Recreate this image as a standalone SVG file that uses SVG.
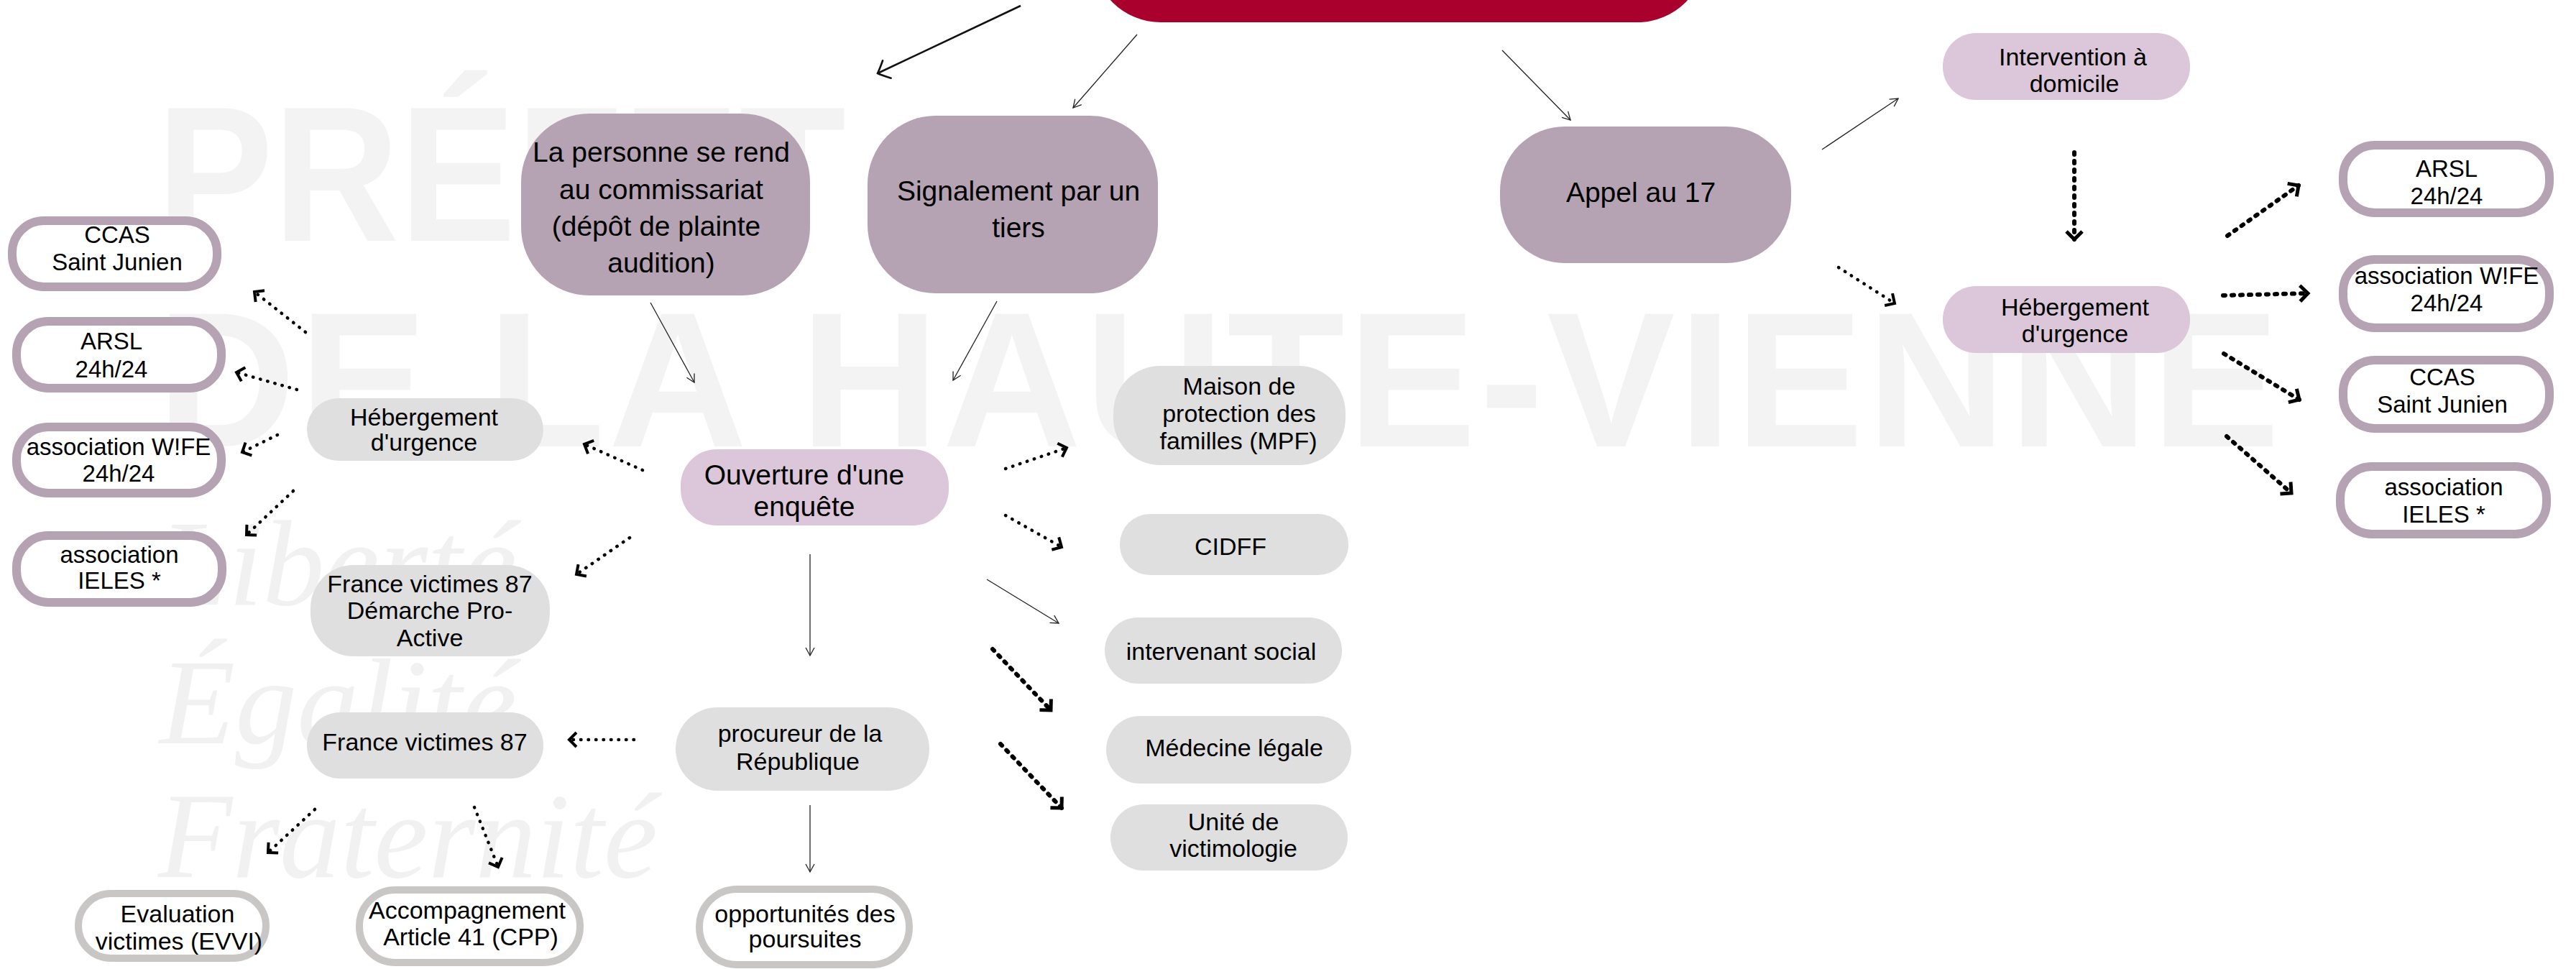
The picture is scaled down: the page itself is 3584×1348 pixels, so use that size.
<svg xmlns="http://www.w3.org/2000/svg" width="3584" height="1348" viewBox="0 0 3584 1348">
<style>
.wm{font-family:"Liberation Sans",Arial,sans-serif;font-weight:bold;fill:#f3f3f3}
.wi{font-family:"Liberation Serif","Times New Roman",serif;font-style:italic;fill:#f1f1f1}
.t{font-family:"Liberation Sans",Arial,sans-serif;fill:#000;text-anchor:middle}
.L{font-size:39px}
.S{font-size:34px}
.O{font-size:33px}
.mauve{fill:#b5a2b3}
.pink{fill:#dcc6d9}
.grey{fill:#dfdfdf}
.ring{fill:#fff;stroke:#b5a2b3;stroke-width:12}
.ring2{fill:#fff;stroke:#c9c6c6;stroke-width:10}
.sol{fill:none;stroke:#222;stroke-width:1.3;marker-end:url(#thin)}
.sol2{fill:none;stroke:#111;stroke-width:2.6;marker-end:url(#big)}
.dot{fill:none;stroke:#000;stroke-width:4.5;stroke-dasharray:0.5 10;stroke-linecap:round;marker-end:url(#chev)}
.dot2{fill:none;stroke:#000;stroke-width:6;stroke-dasharray:3 9;stroke-linecap:round;marker-end:url(#chev2)}
</style>
<defs>
<marker id="thin" markerUnits="userSpaceOnUse" markerWidth="30" markerHeight="30" viewBox="-15 -15 30 30" refX="0" refY="0" orient="auto" overflow="visible">
<path d="M-11,-6 L0,0 L-11,6" fill="none" stroke="#222" stroke-width="1.3"/>
</marker>
<marker id="big" markerUnits="userSpaceOnUse" markerWidth="40" markerHeight="40" viewBox="-20 -20 40 40" refX="0" refY="0" orient="auto" overflow="visible">
<path d="M-14,-14 Q-4,-5 0,0 Q-5,4 -14,13" fill="none" stroke="#111" stroke-width="2.6" stroke-linecap="round"/>
</marker>
<marker id="chev" markerUnits="userSpaceOnUse" markerWidth="30" markerHeight="30" viewBox="-15 -15 30 30" refX="0" refY="0" orient="auto" overflow="visible">
<path d="M-10,-10 L0,0 L-10,10" fill="none" stroke="#000" stroke-width="4"/>
</marker>
<marker id="chev2" markerUnits="userSpaceOnUse" markerWidth="30" markerHeight="30" viewBox="-15 -15 30 30" refX="0" refY="0" orient="auto" overflow="visible">
<path d="M-11,-11 L0,0 L-11,11" fill="none" stroke="#000" stroke-width="5"/>
</marker>
</defs>
<rect width="3584" height="1348" fill="#fff"/>
<g id="watermark">
<text class="wm" x="218" y="335" font-size="268" textLength="959" lengthAdjust="spacingAndGlyphs">PRÉFET</text>
<text class="wm" x="218" y="621" font-size="268" textLength="2954" lengthAdjust="spacing">DE LA HAUTE-VIENNE</text>
<text class="wi" x="222" y="841" font-size="170" textLength="497" lengthAdjust="spacingAndGlyphs">Liberté</text>
<text class="wi" x="222" y="1034" font-size="170" textLength="497" lengthAdjust="spacingAndGlyphs">Égalité</text>
<text class="wi" x="220" y="1220" font-size="170" textLength="695" lengthAdjust="spacingAndGlyphs">Fraternité</text>
</g>
<g id="n-title"><rect x="1520" y="-200" width="853" height="231" rx="95" fill="#a9002e"/></g>
<g id="n-personne"><rect class="mauve" x="725" y="158" width="402" height="253" rx="95"/>
<text class="t L"><tspan x="920" y="225">La personne se rend</tspan><tspan x="920" y="277">au commissariat</tspan><tspan x="913" y="328">(dépôt de plainte</tspan><tspan x="920" y="379">audition)</tspan></text></g>
<g id="n-signalement"><rect class="mauve" x="1207" y="161" width="404" height="247" rx="95"/>
<text class="t L"><tspan x="1417" y="279">Signalement par un</tspan><tspan x="1417" y="330">tiers</tspan></text></g>
<g id="n-appel"><rect class="mauve" x="2087" y="176" width="405" height="190" rx="90"/>
<text class="t L" x="2283" y="281">Appel au 17</text></g>
<g id="n-intervention"><rect class="pink" x="2703" y="46" width="344" height="93" rx="46"/>
<text class="t S"><tspan x="2884" y="91">Intervention à</tspan><tspan x="2886" y="128">domicile</tspan></text></g>
<g id="n-heb-right"><rect class="pink" x="2703" y="398" width="344" height="93" rx="46"/>
<text class="t S"><tspan x="2887" y="439">Hébergement</tspan><tspan x="2887" y="476">d'urgence</tspan></text></g>
<g id="n-r-arsl"><rect class="ring" x="3260" y="202" width="287" height="94" rx="44"/>
<text class="t O"><tspan x="3404" y="246">ARSL</tspan><tspan x="3404" y="284">24h/24</tspan></text></g>
<g id="n-r-wife"><rect class="ring" x="3260" y="361" width="287" height="95" rx="44"/>
<text class="t O"><tspan x="3404" y="395">association W!FE</tspan><tspan x="3404" y="433">24h/24</tspan></text></g>
<g id="n-r-ccas"><rect class="ring" x="3260" y="501" width="287" height="95" rx="44"/>
<text class="t O"><tspan x="3398" y="536">CCAS</tspan><tspan x="3398" y="574">Saint Junien</tspan></text></g>
<g id="n-r-ieles"><rect class="ring" x="3256" y="649" width="287" height="94" rx="44"/>
<text class="t O"><tspan x="3400" y="689">association</tspan><tspan x="3400" y="727">IELES *</tspan></text></g>
<g id="n-l-ccas"><rect class="ring" x="17" y="307" width="285" height="92" rx="44"/>
<text class="t O"><tspan x="163" y="338">CCAS</tspan><tspan x="163" y="376">Saint Junien</tspan></text></g>
<g id="n-l-arsl"><rect class="ring" x="23" y="447" width="285" height="93" rx="44"/>
<text class="t O"><tspan x="155" y="486">ARSL</tspan><tspan x="155" y="525">24h/24</tspan></text></g>
<g id="n-l-wife"><rect class="ring" x="23" y="594" width="285" height="92" rx="44"/>
<text class="t O"><tspan x="165" y="633">association W!FE</tspan><tspan x="165" y="670">24h/24</tspan></text></g>
<g id="n-l-ieles"><rect class="ring" x="23" y="745" width="286" height="93" rx="44"/>
<text class="t O"><tspan x="166" y="783">association</tspan><tspan x="166" y="819">IELES *</tspan></text></g>
<g id="n-heb-left"><rect class="grey" x="427" y="554" width="329" height="87" rx="44"/>
<text class="t S"><tspan x="590" y="592">Hébergement</tspan><tspan x="590" y="627">d'urgence</tspan></text></g>
<g id="n-ouverture"><rect class="pink" x="947" y="625" width="373" height="106" rx="50"/>
<text class="t L"><tspan x="1119" y="674">Ouverture d'une</tspan><tspan x="1119" y="718">enquête</tspan></text></g>
<g id="n-fv-pa"><rect class="grey" x="432" y="786" width="333" height="127" rx="60"/>
<text class="t S"><tspan x="598" y="824">France victimes 87</tspan><tspan x="598" y="861">Démarche Pro-</tspan><tspan x="598" y="899">Active</tspan></text></g>
<g id="n-fv87"><rect class="grey" x="427" y="991" width="329" height="92" rx="46"/>
<text class="t S" x="591" y="1044">France victimes 87</text></g>
<g id="n-procureur"><rect class="grey" x="940" y="984" width="353" height="116" rx="58"/>
<text class="t S"><tspan x="1113" y="1032">procureur de la</tspan><tspan x="1110" y="1071">République</tspan></text></g>
<g id="n-mpf"><rect class="grey" x="1549" y="509" width="323" height="138" rx="65"/>
<text class="t S"><tspan x="1724" y="549">Maison de</tspan><tspan x="1724" y="587">protection des</tspan><tspan x="1723" y="625">familles (MPF)</tspan></text></g>
<g id="n-cidff"><rect class="grey" x="1558" y="715" width="318" height="85" rx="42"/>
<text class="t S" x="1712" y="772">CIDFF</text></g>
<g id="n-intervenant"><rect class="grey" x="1537" y="859" width="330" height="92" rx="46"/>
<text class="t S" x="1699" y="918">intervenant social</text></g>
<g id="n-medecine"><rect class="grey" x="1539" y="996" width="341" height="94" rx="47"/>
<text class="t S" x="1717" y="1052">Médecine légale</text></g>
<g id="n-unite"><rect class="grey" x="1545" y="1119" width="330" height="92" rx="46"/>
<text class="t S"><tspan x="1716" y="1155">Unité de</tspan><tspan x="1716" y="1192">victimologie</tspan></text></g>
<g id="n-evvi"><rect class="ring2" x="109" y="1243" width="261" height="90" rx="45"/>
<text class="t S"><tspan x="247" y="1283">Evaluation</tspan><tspan x="249" y="1321">victimes (EVVI)</tspan></text></g>
<g id="n-accomp"><rect class="ring2" x="500" y="1238" width="307" height="101" rx="50"/>
<text class="t S"><tspan x="650" y="1278">Accompagnement</tspan><tspan x="655" y="1315">Article 41 (CPP)</tspan></text></g>
<g id="n-opport"><rect class="ring2" x="973" y="1237" width="292" height="105" rx="52"/>
<text class="t S"><tspan x="1120" y="1283">opportunités des</tspan><tspan x="1120" y="1318">poursuites</tspan></text></g>
<g id="connectors">
<path class="sol2" d="M1420,8 L1221,102"/>
<path class="sol" d="M1582,48 L1493,150"/>
<path class="sol" d="M2090,70 L2185,167"/>
<path class="sol" d="M2535,208 L2641,137"/>
<path class="sol" d="M905,421 L966,532"/>
<path class="sol" d="M1387,419 L1326,529"/>
<path class="sol" d="M1127,771 L1127,912"/>
<path class="sol" d="M1127,1120 L1127,1213"/>
<path class="sol" d="M1373,806 L1473,867"/>
<path class="dot" d="M894,654 L813,618"/>
<path class="dot" d="M425,462 L354,406"/>
<path class="dot" d="M413,542 L329,518"/>
<path class="dot" d="M386,605 L337,629"/>
<path class="dot" d="M408,683 L343,744"/>
<path class="dot" d="M876,748 L802,799"/>
<path class="dot" d="M882,1029 L792,1029"/>
<path class="dot" d="M438,1126 L373,1186"/>
<path class="dot" d="M660,1123 L693,1206"/>
<path class="dot" d="M1399,652 L1484,623"/>
<path class="dot" d="M1399,717 L1477,761"/>
<path class="dot" d="M2558,372 L2636,422"/>
<path class="dot2" d="M1381,903 L1462,988"/>
<path class="dot2" d="M1392,1035 L1477,1124"/>
<path class="dot2" d="M2886,212 L2886,333"/>
<path class="dot2" d="M3099,328 L3198,258"/>
<path class="dot2" d="M3093,411 L3211,408"/>
<path class="dot2" d="M3094,492 L3199,556"/>
<path class="dot2" d="M3098,607 L3188,686"/>
</g>
</svg>
